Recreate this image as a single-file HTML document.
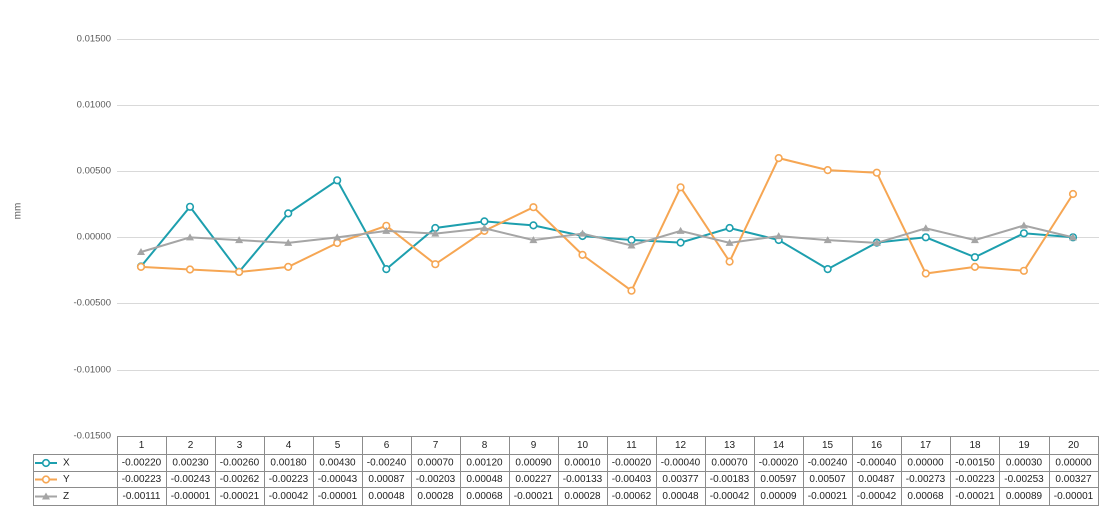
<!DOCTYPE html>
<html><head><meta charset="utf-8"><style>
html,body{margin:0;padding:0;background:#fff;}
svg{display:block;font-family:"Liberation Sans",sans-serif;}
</style></head><body>
<svg width="1110" height="513" viewBox="0 0 1110 513" xmlns="http://www.w3.org/2000/svg">
<g stroke="#d9d9d9" stroke-width="1">
<line x1="117" y1="39.5" x2="1099" y2="39.5"/>
<line x1="117" y1="105.5" x2="1099" y2="105.5"/>
<line x1="117" y1="171.5" x2="1099" y2="171.5"/>
<line x1="117" y1="237.5" x2="1099" y2="237.5"/>
<line x1="117" y1="303.5" x2="1099" y2="303.5"/>
<line x1="117" y1="370.5" x2="1099" y2="370.5"/>
</g>
<g font-size="9.5" fill="#595959" text-anchor="end" dominant-baseline="central">
<text x="111" y="39">0.01500</text>
<text x="111" y="105">0.01000</text>
<text x="111" y="171">0.00500</text>
<text x="111" y="237">0.00000</text>
<text x="111" y="303">-0.00500</text>
<text x="111" y="370">-0.01000</text>
<text x="111" y="436">-0.01500</text>
</g>
<text x="0" y="0" font-size="10" fill="#595959" text-anchor="middle" dominant-baseline="central" transform="translate(18,211) rotate(-90)">mm</text>

<polyline fill="none" stroke="#1d9fae" stroke-width="2" points="141,266.5 190,206.8 239.1,271.8 288.2,213.4 337.2,180.3 386.3,269.1 435.3,228 484.4,221.4 533.4,225.4 582.5,236 631.5,240 680.6,242.6 729.6,228 778.7,240 827.7,269.1 876.8,242.6 925.8,237.3 974.9,257.2 1023.9,233.3 1073,237.3"/>
<g fill="#fff" stroke="#1d9fae" stroke-width="1.6">
<circle cx="141" cy="266.5" r="3.3"/><circle cx="190" cy="206.8" r="3.3"/><circle cx="239.1" cy="271.8" r="3.3"/><circle cx="288.2" cy="213.4" r="3.3"/><circle cx="337.2" cy="180.3" r="3.3"/><circle cx="386.3" cy="269.1" r="3.3"/><circle cx="435.3" cy="228" r="3.3"/><circle cx="484.4" cy="221.4" r="3.3"/><circle cx="533.4" cy="225.4" r="3.3"/><circle cx="582.5" cy="236" r="3.3"/><circle cx="631.5" cy="240" r="3.3"/><circle cx="680.6" cy="242.6" r="3.3"/><circle cx="729.6" cy="228" r="3.3"/><circle cx="778.7" cy="240" r="3.3"/><circle cx="827.7" cy="269.1" r="3.3"/><circle cx="876.8" cy="242.6" r="3.3"/><circle cx="925.8" cy="237.3" r="3.3"/><circle cx="974.9" cy="257.2" r="3.3"/><circle cx="1023.9" cy="233.3" r="3.3"/><circle cx="1073" cy="237.3" r="3.3"/>
</g>

<polyline fill="none" stroke="#f6a653" stroke-width="2" points="141,266.9 190,269.5 239.1,272 288.2,266.9 337.2,243 386.3,225.8 435.3,264.2 484.4,230.9 533.4,207.2 582.5,254.9 631.5,290.7 680.6,187.3 729.6,261.6 778.7,158.1 827.7,170.1 876.8,172.7 925.8,273.5 974.9,266.9 1023.9,270.8 1073,194"/>
<g fill="#fff" stroke="#f6a653" stroke-width="1.6">
<circle cx="141" cy="266.9" r="3.3"/><circle cx="190" cy="269.5" r="3.3"/><circle cx="239.1" cy="272" r="3.3"/><circle cx="288.2" cy="266.9" r="3.3"/><circle cx="337.2" cy="243" r="3.3"/><circle cx="386.3" cy="225.8" r="3.3"/><circle cx="435.3" cy="264.2" r="3.3"/><circle cx="484.4" cy="230.9" r="3.3"/><circle cx="533.4" cy="207.2" r="3.3"/><circle cx="582.5" cy="254.9" r="3.3"/><circle cx="631.5" cy="290.7" r="3.3"/><circle cx="680.6" cy="187.3" r="3.3"/><circle cx="729.6" cy="261.6" r="3.3"/><circle cx="778.7" cy="158.1" r="3.3"/><circle cx="827.7" cy="170.1" r="3.3"/><circle cx="876.8" cy="172.7" r="3.3"/><circle cx="925.8" cy="273.5" r="3.3"/><circle cx="974.9" cy="266.9" r="3.3"/><circle cx="1023.9" cy="270.8" r="3.3"/><circle cx="1073" cy="194" r="3.3"/>
</g>

<polyline fill="none" stroke="#a5a5a5" stroke-width="2" points="141,252 190,237.4 239.1,240.1 288.2,242.9 337.2,237.4 386.3,230.9 435.3,233.6 484.4,228.3 533.4,240.1 582.5,233.6 631.5,245.5 680.6,230.9 729.6,242.9 778.7,236.1 827.7,240.1 876.8,242.9 925.8,228.3 974.9,240.1 1023.9,225.5 1073,237.4"/>
<g fill="#a5a5a5">
<polygon points="141,248 145,255 137,255"/><polygon points="190,233.4 194,240.4 186,240.4"/><polygon points="239.1,236.1 243.1,243.1 235.1,243.1"/><polygon points="288.2,238.9 292.2,245.9 284.2,245.9"/><polygon points="337.2,233.4 341.2,240.4 333.2,240.4"/><polygon points="386.3,226.9 390.3,233.9 382.3,233.9"/><polygon points="435.3,229.6 439.3,236.6 431.3,236.6"/><polygon points="484.4,224.3 488.4,231.3 480.4,231.3"/><polygon points="533.4,236.1 537.4,243.1 529.4,243.1"/><polygon points="582.5,229.6 586.5,236.6 578.5,236.6"/><polygon points="631.5,241.5 635.5,248.5 627.5,248.5"/><polygon points="680.6,226.9 684.6,233.9 676.6,233.9"/><polygon points="729.6,238.9 733.6,245.9 725.6,245.9"/><polygon points="778.7,232.1 782.7,239.1 774.7,239.1"/><polygon points="827.7,236.1 831.7,243.1 823.7,243.1"/><polygon points="876.8,238.9 880.8,245.9 872.8,245.9"/><polygon points="925.8,224.3 929.8,231.3 921.8,231.3"/><polygon points="974.9,236.1 978.9,243.1 970.9,243.1"/><polygon points="1023.9,221.5 1027.9,228.5 1019.9,228.5"/><polygon points="1073,233.4 1077,240.4 1069,240.4"/>
</g>

<!-- table -->
<g stroke="#8c8c8c" stroke-width="1" fill="none">
<line x1="117" y1="436.5" x2="1099" y2="436.5"/>
<line x1="33" y1="454.5" x2="1099" y2="454.5"/>
<line x1="33" y1="471.5" x2="1099" y2="471.5"/>
<line x1="33" y1="487.5" x2="1099" y2="487.5"/>
<line x1="33" y1="505.5" x2="1099" y2="505.5"/>
<line x1="33.5" y1="454" x2="33.5" y2="506"/>
<line x1="117.5" y1="436" x2="117.5" y2="506"/>
<line x1="166.5" y1="436" x2="166.5" y2="506"/>
<line x1="215.5" y1="436" x2="215.5" y2="506"/>
<line x1="264.5" y1="436" x2="264.5" y2="506"/>
<line x1="313.5" y1="436" x2="313.5" y2="506"/>
<line x1="362.5" y1="436" x2="362.5" y2="506"/>
<line x1="411.5" y1="436" x2="411.5" y2="506"/>
<line x1="460.5" y1="436" x2="460.5" y2="506"/>
<line x1="509.5" y1="436" x2="509.5" y2="506"/>
<line x1="558.5" y1="436" x2="558.5" y2="506"/>
<line x1="607.5" y1="436" x2="607.5" y2="506"/>
<line x1="656.5" y1="436" x2="656.5" y2="506"/>
<line x1="705.5" y1="436" x2="705.5" y2="506"/>
<line x1="754.5" y1="436" x2="754.5" y2="506"/>
<line x1="803.5" y1="436" x2="803.5" y2="506"/>
<line x1="852.5" y1="436" x2="852.5" y2="506"/>
<line x1="901.5" y1="436" x2="901.5" y2="506"/>
<line x1="950.5" y1="436" x2="950.5" y2="506"/>
<line x1="999.5" y1="436" x2="999.5" y2="506"/>
<line x1="1049.5" y1="436" x2="1049.5" y2="506"/>
<line x1="1098.5" y1="436" x2="1098.5" y2="506"/>
</g>
<!-- legend -->
<line x1="35" y1="463" x2="57" y2="463" stroke="#1d9fae" stroke-width="2"/>
<circle cx="46" cy="463" r="3.3" fill="#fff" stroke="#1d9fae" stroke-width="1.6"/>
<line x1="35" y1="479.5" x2="57" y2="479.5" stroke="#f6a653" stroke-width="2"/>
<circle cx="46" cy="479.5" r="3.3" fill="#fff" stroke="#f6a653" stroke-width="1.6"/>
<line x1="35" y1="496.5" x2="57" y2="496.5" stroke="#a5a5a5" stroke-width="2"/>
<polygon points="46,492.5 50,499.5 42,499.5" fill="#a5a5a5"/>
<g font-size="10" fill="#222" dominant-baseline="central">
<text x="63" y="463">X</text><text x="63" y="479.5">Y</text><text x="63" y="496.5">Z</text>
</g>
<g font-size="10" fill="#222" text-anchor="middle" dominant-baseline="central">
<g transform="translate(0,445.5)">
<text x="141.5" y="0">1</text><text x="190.5" y="0">2</text><text x="239.5" y="0">3</text><text x="288.5" y="0">4</text><text x="337.5" y="0">5</text><text x="386.5" y="0">6</text><text x="435.5" y="0">7</text><text x="484.5" y="0">8</text><text x="533.5" y="0">9</text><text x="582.5" y="0">10</text><text x="631.5" y="0">11</text><text x="680.5" y="0">12</text><text x="729.5" y="0">13</text><text x="778.5" y="0">14</text><text x="827.5" y="0">15</text><text x="876.5" y="0">16</text><text x="925.5" y="0">17</text><text x="975" y="0">18</text><text x="1024" y="0">19</text><text x="1073.5" y="0">20</text>
</g>
<g transform="translate(0,463)">
<text x="141.5" y="0">-0.00220</text><text x="190.5" y="0">0.00230</text><text x="239.5" y="0">-0.00260</text><text x="288.5" y="0">0.00180</text><text x="337.5" y="0">0.00430</text><text x="386.5" y="0">-0.00240</text><text x="435.5" y="0">0.00070</text><text x="484.5" y="0">0.00120</text><text x="533.5" y="0">0.00090</text><text x="582.5" y="0">0.00010</text><text x="631.5" y="0">-0.00020</text><text x="680.5" y="0">-0.00040</text><text x="729.5" y="0">0.00070</text><text x="778.5" y="0">-0.00020</text><text x="827.5" y="0">-0.00240</text><text x="876.5" y="0">-0.00040</text><text x="925.5" y="0">0.00000</text><text x="975" y="0">-0.00150</text><text x="1024" y="0">0.00030</text><text x="1073.5" y="0">0.00000</text>
</g>
<g transform="translate(0,479.5)">
<text x="141.5" y="0">-0.00223</text><text x="190.5" y="0">-0.00243</text><text x="239.5" y="0">-0.00262</text><text x="288.5" y="0">-0.00223</text><text x="337.5" y="0">-0.00043</text><text x="386.5" y="0">0.00087</text><text x="435.5" y="0">-0.00203</text><text x="484.5" y="0">0.00048</text><text x="533.5" y="0">0.00227</text><text x="582.5" y="0">-0.00133</text><text x="631.5" y="0">-0.00403</text><text x="680.5" y="0">0.00377</text><text x="729.5" y="0">-0.00183</text><text x="778.5" y="0">0.00597</text><text x="827.5" y="0">0.00507</text><text x="876.5" y="0">0.00487</text><text x="925.5" y="0">-0.00273</text><text x="975" y="0">-0.00223</text><text x="1024" y="0">-0.00253</text><text x="1073.5" y="0">0.00327</text>
</g>
<g transform="translate(0,496.5)">
<text x="141.5" y="0">-0.00111</text><text x="190.5" y="0">-0.00001</text><text x="239.5" y="0">-0.00021</text><text x="288.5" y="0">-0.00042</text><text x="337.5" y="0">-0.00001</text><text x="386.5" y="0">0.00048</text><text x="435.5" y="0">0.00028</text><text x="484.5" y="0">0.00068</text><text x="533.5" y="0">-0.00021</text><text x="582.5" y="0">0.00028</text><text x="631.5" y="0">-0.00062</text><text x="680.5" y="0">0.00048</text><text x="729.5" y="0">-0.00042</text><text x="778.5" y="0">0.00009</text><text x="827.5" y="0">-0.00021</text><text x="876.5" y="0">-0.00042</text><text x="925.5" y="0">0.00068</text><text x="975" y="0">-0.00021</text><text x="1024" y="0">0.00089</text><text x="1073.5" y="0">-0.00001</text>
</g>
</g>
</svg>
</body></html>
